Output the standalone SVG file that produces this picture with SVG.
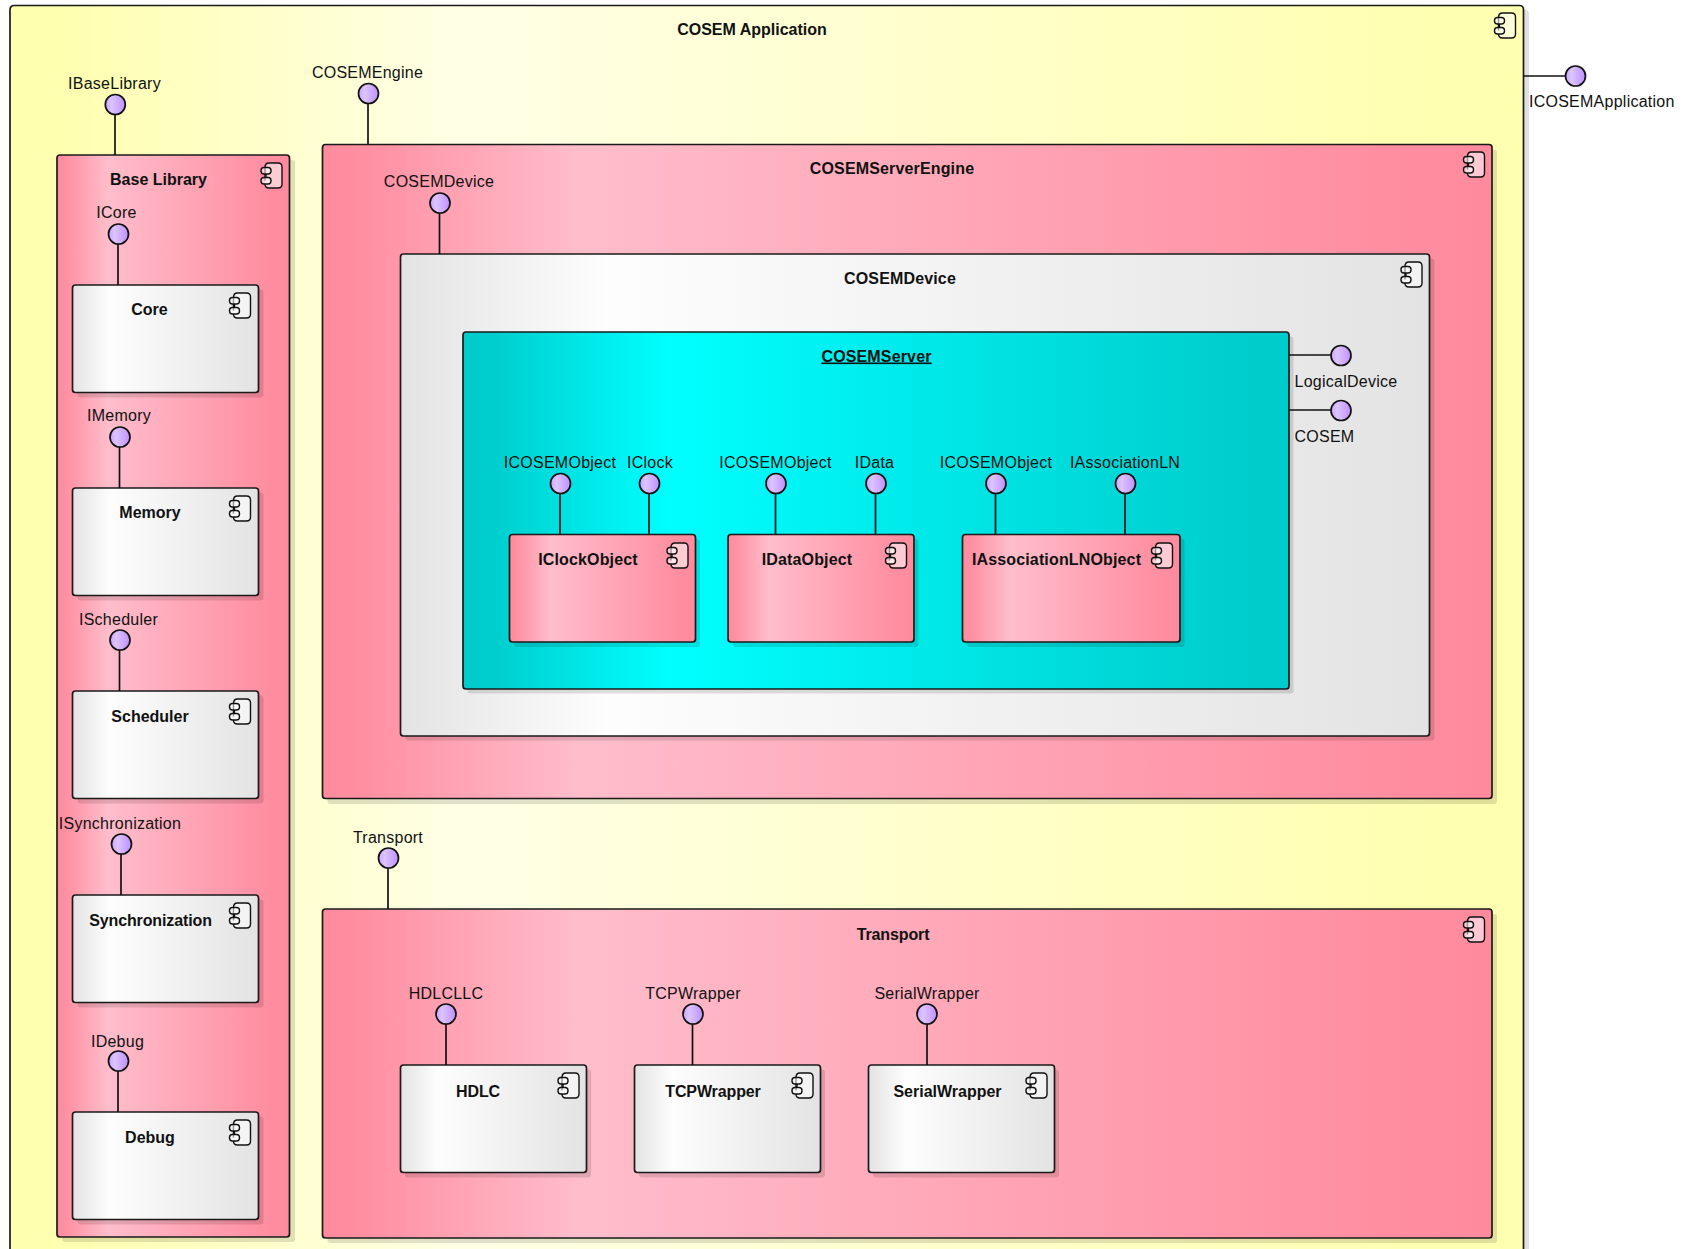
<svg xmlns="http://www.w3.org/2000/svg" xmlns:xlink="http://www.w3.org/1999/xlink" width="1701" height="1249" viewBox="0 0 1701 1249">
<style>
text{font-family:"Liberation Sans",Arial,sans-serif;font-size:16px;fill:#111;text-anchor:middle}
.t{font-weight:bold}
.w{letter-spacing:.15px}
.n{letter-spacing:-.12px}
.l{letter-spacing:.25px}
.s{text-anchor:start}
.sh{fill:#000;fill-opacity:.12}
.b{stroke:#1a1a1a;stroke-width:1.7}
.y{fill:url(#gy)}.p{fill:url(#gp)}.g{fill:url(#gg)}.c{fill:url(#gc)}
.i{fill:url(#gi);stroke:#111;stroke-width:1.7}
.ic{fill:#fff;fill-opacity:.55;stroke:#111;stroke-width:1.4}
#conn line{stroke:#111;stroke-width:1.7}
</style>
<defs>
<linearGradient id="gy"><stop offset="0" stop-color="#ffffb0"/><stop offset=".03" stop-color="#ffffb0"/><stop offset=".3" stop-color="#ffffe6"/><stop offset=".9" stop-color="#ffffb4"/><stop offset="1" stop-color="#ffffb0"/></linearGradient>
<linearGradient id="gp"><stop offset="0" stop-color="#ff8a9e"/><stop offset=".03" stop-color="#ff8ea1"/><stop offset=".22" stop-color="#ffbdcb"/><stop offset=".9" stop-color="#ff8ea1"/><stop offset="1" stop-color="#ff8a9e"/></linearGradient>
<linearGradient id="gg"><stop offset="0" stop-color="#e3e3e3"/><stop offset=".2" stop-color="#fdfdfd"/><stop offset=".3" stop-color="#fafafa"/><stop offset="1" stop-color="#e3e3e3"/></linearGradient>
<linearGradient id="gc"><stop offset="0" stop-color="#00cccc"/><stop offset=".03" stop-color="#00cccc"/><stop offset=".25" stop-color="#00ffff"/><stop offset=".95" stop-color="#00cccc"/><stop offset="1" stop-color="#00cccc"/></linearGradient>
<linearGradient id="gi"><stop offset="0" stop-color="#c8a4ff"/><stop offset=".3" stop-color="#dcc4ff"/><stop offset="1" stop-color="#bf90ff"/></linearGradient>
<g id="icon">
<path class="ic" d="M-17-7.500V-20.500Q-17-25-13-25H-4Q0-25 0-21V-4Q0 0-4 0H-13Q-17 0-17-4"/>
<rect class="ic" x="-21" y="-20.500" width="10" height="6.500" rx="3"/>
<rect class="ic" x="-21" y="-10.500" width="10" height="6.500" rx="3"/>
<line class="ic" x1="-16" y1="-14" x2="-16" y2="-10.500"/>
</g>
</defs>
<rect width="1701" height="1249" fill="#fff"/>

<g id="app"><rect class="sh" x="15" y="10" width="1514" height="1260" rx="4"/><rect class="y b" x="10" y="5.500" width="1513.500" height="1260" rx="4"/><use xlink:href="#icon" href="#icon" x="1515.500" y="38"/><text class="t" x="752" y="35">COSEM Application</text></g>

<g id="baseLibrary"><rect class="sh" x="62" y="160" width="233" height="1082" rx="3"/><rect class="p b" x="57" y="155" width="232.500" height="1082" rx="3"/><use xlink:href="#icon" href="#icon" x="282" y="188"/><text class="t" x="158.500" y="185">Base Library</text></g>
<g id="core"><rect class="sh" x="77.500" y="289.500" width="186" height="108" rx="3"/><rect class="g b" x="72.500" y="285" width="186" height="107.500" rx="3"/><use xlink:href="#icon" href="#icon" x="250.500" y="318"/><text class="t" x="149.500" y="315">Core</text></g>
<g id="memory"><rect class="sh" x="77.500" y="492.500" width="186" height="108" rx="3"/><rect class="g b" x="72.500" y="488" width="186" height="107.500" rx="3"/><use xlink:href="#icon" href="#icon" x="250.500" y="521"/><text class="t" x="150" y="518">Memory</text></g>
<g id="scheduler"><rect class="sh" x="77.500" y="695.500" width="186" height="108" rx="3"/><rect class="g b" x="72.500" y="691" width="186" height="107.500" rx="3"/><use xlink:href="#icon" href="#icon" x="250.500" y="724"/><text class="t" x="150" y="721.500">Scheduler</text></g>
<g id="synchronization"><rect class="sh" x="77.500" y="899.500" width="186" height="108" rx="3"/><rect class="g b" x="72.500" y="895" width="186" height="107.500" rx="3"/><use xlink:href="#icon" href="#icon" x="250.500" y="928"/><text class="t n" x="150.500" y="925.500">Synchronization</text></g>
<g id="debug"><rect class="sh" x="77.500" y="1116.500" width="186" height="108" rx="3"/><rect class="g b" x="72.500" y="1112" width="186" height="107.500" rx="3"/><use xlink:href="#icon" href="#icon" x="250.500" y="1145"/><text class="t" x="150" y="1142.500">Debug</text></g>

<g id="engine"><rect class="sh" x="327.500" y="149.500" width="1169.500" height="654.500" rx="3"/><rect class="p b" x="322.500" y="144.500" width="1169.500" height="654" rx="3"/><use xlink:href="#icon" href="#icon" x="1484.500" y="177"/><text class="t w" x="892" y="173.500">COSEMServerEngine</text></g>
<g id="device"><rect class="sh" x="405.500" y="258.500" width="1029" height="482" rx="3"/><rect class="g b" x="400.500" y="254" width="1029" height="482" rx="3"/><use xlink:href="#icon" href="#icon" x="1422" y="287"/><text class="t w" x="900" y="283.500">COSEMDevice</text></g>
<g id="server"><rect class="sh" x="467.500" y="336.500" width="826" height="357" rx="3"/><rect class="c b" x="463" y="332" width="826" height="357" rx="3"/><text class="t w" x="876.500" y="361.500" text-decoration="underline">COSEMServer</text></g>
<g id="clockObject"><rect class="sh" x="514" y="539" width="186" height="108" rx="3"/><rect class="p b" x="509.500" y="534.500" width="186" height="107.500" rx="3"/><use xlink:href="#icon" href="#icon" x="688" y="568"/><text class="t w" x="588" y="565">IClockObject</text></g>
<g id="dataObject"><rect class="sh" x="732.500" y="539" width="186" height="108" rx="3"/><rect class="p b" x="728" y="534.500" width="186" height="107.500" rx="3"/><use xlink:href="#icon" href="#icon" x="906.500" y="568"/><text class="t w" x="807" y="565">IDataObject</text></g>
<g id="associationObject"><rect class="sh" x="966.500" y="539" width="218" height="108" rx="3"/><rect class="p b" x="962.500" y="534.500" width="217.500" height="107.500" rx="3"/><use xlink:href="#icon" href="#icon" x="1172.500" y="568"/><text class="t w" x="1056.500" y="565">IAssociationLNObject</text></g>

<g id="transport"><rect class="sh" x="327.500" y="914" width="1169.500" height="329" rx="3"/><rect class="p b" x="322.500" y="909" width="1169.500" height="329" rx="3"/><use xlink:href="#icon" href="#icon" x="1484.500" y="942"/><text class="t n" x="893" y="939.500">Transport</text></g>
<g id="hdlc"><rect class="sh" x="405" y="1069.500" width="186" height="108" rx="3"/><rect class="g b" x="400.500" y="1065" width="186" height="107.500" rx="3"/><use xlink:href="#icon" href="#icon" x="579" y="1098"/><text class="t n" x="478" y="1096.500">HDLC</text></g>
<g id="tcpWrapper"><rect class="sh" x="639" y="1069.500" width="186" height="108" rx="3"/><rect class="g b" x="634.500" y="1065" width="186" height="107.500" rx="3"/><use xlink:href="#icon" href="#icon" x="813" y="1098"/><text class="t n" x="713" y="1096.500">TCPWrapper</text></g>
<g id="serialWrapper"><rect class="sh" x="873" y="1069.500" width="186" height="108" rx="3"/><rect class="g b" x="868.500" y="1065" width="186" height="107.500" rx="3"/><use xlink:href="#icon" href="#icon" x="1047" y="1098"/><text class="t" x="947.500" y="1096.500">SerialWrapper</text></g>

<g id="conn">
<line x1="115" y1="115" x2="115" y2="155"/>
<line x1="368" y1="104" x2="368" y2="144.500"/>
<line x1="118" y1="244" x2="118" y2="285"/>
<line x1="119.500" y1="447" x2="119.500" y2="488"/>
<line x1="119.500" y1="650" x2="119.500" y2="691"/>
<line x1="121" y1="854" x2="121" y2="895"/>
<line x1="118" y1="1071" x2="118" y2="1112"/>
<line x1="439.500" y1="213" x2="439.500" y2="254"/>
<line x1="1523.500" y1="76" x2="1565" y2="76"/>
<line x1="1289" y1="355" x2="1331" y2="355"/>
<line x1="1289" y1="410" x2="1331" y2="410"/>
<line x1="560" y1="494" x2="560" y2="534.500"/>
<line x1="649" y1="494" x2="649" y2="534.500"/>
<line x1="775.500" y1="494" x2="775.500" y2="534.500"/>
<line x1="875.500" y1="494" x2="875.500" y2="534.500"/>
<line x1="995.500" y1="494" x2="995.500" y2="534.500"/>
<line x1="1125" y1="494" x2="1125" y2="534.500"/>
<line x1="388" y1="868" x2="388" y2="909"/>
<line x1="446" y1="1024" x2="446" y2="1065"/>
<line x1="692.500" y1="1024" x2="692.500" y2="1065"/>
<line x1="927" y1="1024" x2="927" y2="1065"/>
</g>

<g id="iBaseLibrary"><circle class="i" cx="115.300" cy="104.500" r="10"/><text class="l" x="114.500" y="89">IBaseLibrary</text></g>
<g id="iCOSEMEngine"><circle class="i" cx="368.500" cy="93.500" r="10"/><text class="l" x="367.500" y="78">COSEMEngine</text></g>
<g id="iCore"><circle class="i" cx="118.500" cy="234" r="10"/><text class="l" x="116.500" y="218">ICore</text></g>
<g id="iMemory"><circle class="i" cx="120" cy="437" r="10"/><text class="l" x="119" y="421">IMemory</text></g>
<g id="iScheduler"><circle class="i" cx="120" cy="640" r="10"/><text class="l" x="118.500" y="624.500">IScheduler</text></g>
<g id="iSynchronization"><circle class="i" cx="121.500" cy="844" r="10"/><text class="l" x="120" y="828.500">ISynchronization</text></g>
<g id="iDebug"><circle class="i" cx="118.500" cy="1061" r="10"/><text class="l" x="117.500" y="1046.500">IDebug</text></g>
<g id="iCOSEMDevice"><circle class="i" cx="440" cy="203" r="10"/><text class="l" x="439" y="187">COSEMDevice</text></g>
<g id="iCOSEMApplication"><circle class="i" cx="1575.500" cy="76" r="10"/><text class="l s" x="1529" y="107">ICOSEMApplication</text></g>
<g id="iLogicalDevice"><circle class="i" cx="1341" cy="355.500" r="10"/><text class="l s" x="1294.500" y="387">LogicalDevice</text></g>
<g id="iCOSEM"><circle class="i" cx="1341" cy="410.500" r="10"/><text class="l s" x="1294.500" y="442">COSEM</text></g>
<g id="iObject1"><circle class="i" cx="560.500" cy="483.500" r="10"/><text class="l" x="560" y="468">ICOSEMObject</text></g>
<g id="iClock"><circle class="i" cx="649.500" cy="483.500" r="10"/><text class="l" x="650" y="468">IClock</text></g>
<g id="iObject2"><circle class="i" cx="776" cy="483.500" r="10"/><text class="l" x="775.500" y="468">ICOSEMObject</text></g>
<g id="iData"><circle class="i" cx="876" cy="483.500" r="10"/><text class="l" x="874.500" y="468">IData</text></g>
<g id="iObject3"><circle class="i" cx="996" cy="483.500" r="10"/><text class="l" x="996" y="468">ICOSEMObject</text></g>
<g id="iAssociationLN"><circle class="i" cx="1125.500" cy="483.500" r="10"/><text class="l" x="1125" y="468">IAssociationLN</text></g>
<g id="iTransport"><circle class="i" cx="388.500" cy="858" r="10"/><text class="l" x="388" y="842.500">Transport</text></g>
<g id="iHDLCLLC"><circle class="i" cx="446" cy="1014" r="10"/><text class="l" x="446" y="999">HDLCLLC</text></g>
<g id="iTCPWrapper"><circle class="i" cx="693" cy="1014" r="10"/><text class="l" x="693" y="999">TCPWrapper</text></g>
<g id="iSerialWrapper"><circle class="i" cx="927" cy="1014" r="10"/><text class="l" x="927" y="999">SerialWrapper</text></g>
</svg>
